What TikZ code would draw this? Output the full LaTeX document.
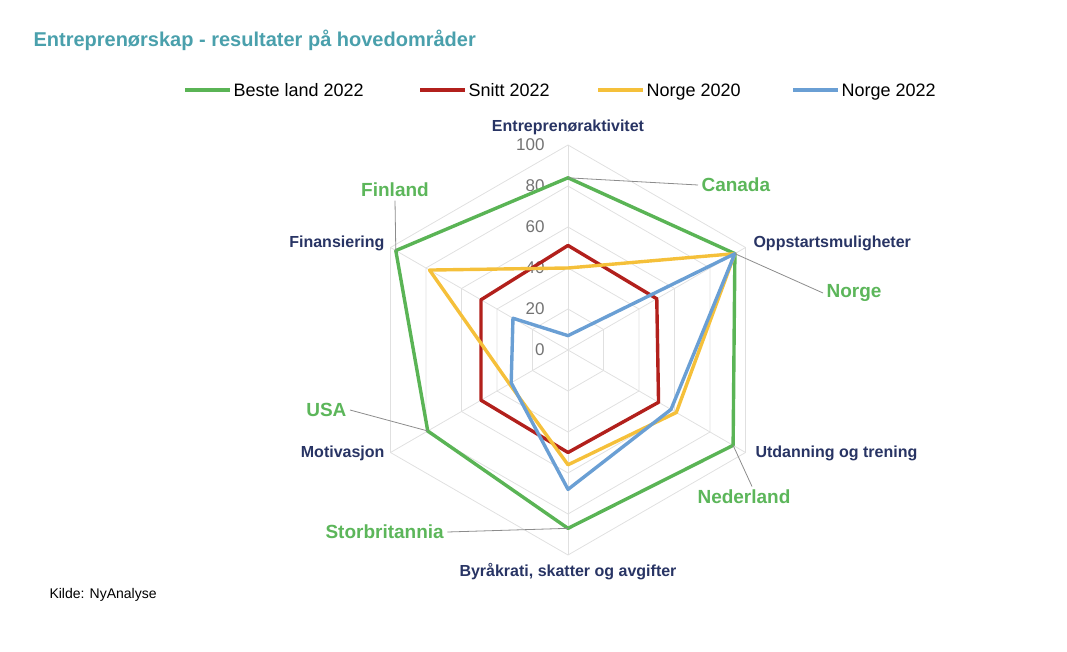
\documentclass[tikz,border=0pt]{standalone}
\usepackage{fontspec}
\setmainfont{Liberation Sans}
\begin{document}
\begin{tikzpicture}[x=1pt,y=-1pt,
 grid/.style={draw=black!12,line width=0.8},
 ser/.style={line width=3.4,line join=round},
 ax/.style={font=\bfseries\fontsize{16}{18}\selectfont,text=navy},
 cty/.style={font=\bfseries\fontsize{19}{21}\selectfont,text=lgreen},
 tick/.style={font=\fontsize{17}{19}\selectfont,text=black!55},
 lead/.style={draw=black!45,line width=0.8},
 leg/.style={font=\fontsize{18}{20}\selectfont,anchor=base west}]
\definecolor{cg}{RGB}{90,180,85}\definecolor{cr}{RGB}{178,32,28}
\definecolor{cy}{RGB}{245,192,58}\definecolor{cb}{RGB}{106,159,212}
\definecolor{navy}{RGB}{40,52,100}\definecolor{lgreen}{RGB}{92,182,90}
\definecolor{teal}{RGB}{74,160,172}
\useasboundingbox (0,0) rectangle (1067,652);
\def\P(#1,#2){({568+2.05*(#2)*cos(#1)},{350-2.05*(#2)*sin(#1)})}
\foreach \r in {20,40,60,80,100}
  \draw[grid] \P(90,\r)--\P(30,\r)--\P(-30,\r)--\P(-90,\r)--\P(210,\r)--\P(150,\r)--cycle;
\foreach \a in {90,30,-30,-90,210,150} \draw[grid] \P(0,0)--\P(\a,100);
\foreach \v in {0,20,40,60,80,100} \node[tick,anchor=east] at (548,{350-2.05*\v}) {\v};
\draw[ser,cg] \P(90,84)--\P(30,94)--\P(-30,93)--\P(-90,87)--\P(210,79)--\P(150,97)--cycle;
\draw[ser,cr] \P(90,51)--\P(30,50)--\P(-30,51)--\P(-90,50)--\P(210,49)--\P(150,49)--cycle;
\draw[ser,cy] \P(90,40)--\P(30,94)--\P(-30,61)--\P(-90,56)--\P(210,33)--\P(150,78)--cycle;
\draw[ser,cb] \P(90,7)--\P(30,94)--\P(-30,58)--\P(-90,68)--\P(210,32)--\P(150,31)--cycle;
% axis labels
\node[ax] (a1) at (568,127) {Entreprenøraktivitet};
\node[ax,anchor=west] (a2) at (750,243) {Oppstartsmuligheter};
\node[ax,anchor=west] (a3) at (752,453) {Utdanning og trening};
\node[ax] (a4) at (568,572) {Byråkrati, skatter og avgifter};
\node[ax,anchor=east] (a5) at (388,453) {Motivasjon};
\node[ax,anchor=east] (a6) at (388,243) {Finansiering};
% countries
\node[cty,anchor=west] (c1) at (698,185) {Canada};
\node[cty,anchor=west] (c2) at (823,293) {Norge};
\node[cty,anchor=west] (c3) at (694,497) {Nederland};
\node[cty,anchor=west] (c4) at (322,532) {Storbritannia};
\node[cty,anchor=east] (c5) at (350,410) {USA};
\node[cty] (c6) at (395,190) {Finland};
\path \P(90,84) coordinate (p1) \P(30,94) coordinate (p2) \P(-30,93) coordinate (p3)
      \P(-90,87) coordinate (p4) \P(210,79) coordinate (p5) \P(150,97) coordinate (p6);
\draw[lead] (c1.west)--(p1);
\draw[lead] (c2.west)--(p2);
\draw[lead] ([xshift=58pt]c3.north west)--(p3);
\draw[lead] (c4.east)--(p4);
\draw[lead] (c5.east)--(p5);
\draw[lead] (c6.south)--(p6);
% legend
\foreach \x/\c/\t in {185/cg/Beste land 2022,420/cr/Snitt 2022,598/cy/Norge 2020,793/cb/Norge 2022}{
  \draw[\c,line width=4.5] (\x,90)--(\x+45,90);
  \node[leg] at (\x+45,96.5) {\t};}
\node[anchor=west,font=\bfseries\fontsize{20}{22}\selectfont,text=teal] (title) at (30,40) {Entreprenørskap - resultater på hovedområder};
\node[anchor=west,font=\fontsize{14}{16}\selectfont] (src) at (46,595) {Kilde: NyAnalyse};
\end{tikzpicture}
\end{document}
